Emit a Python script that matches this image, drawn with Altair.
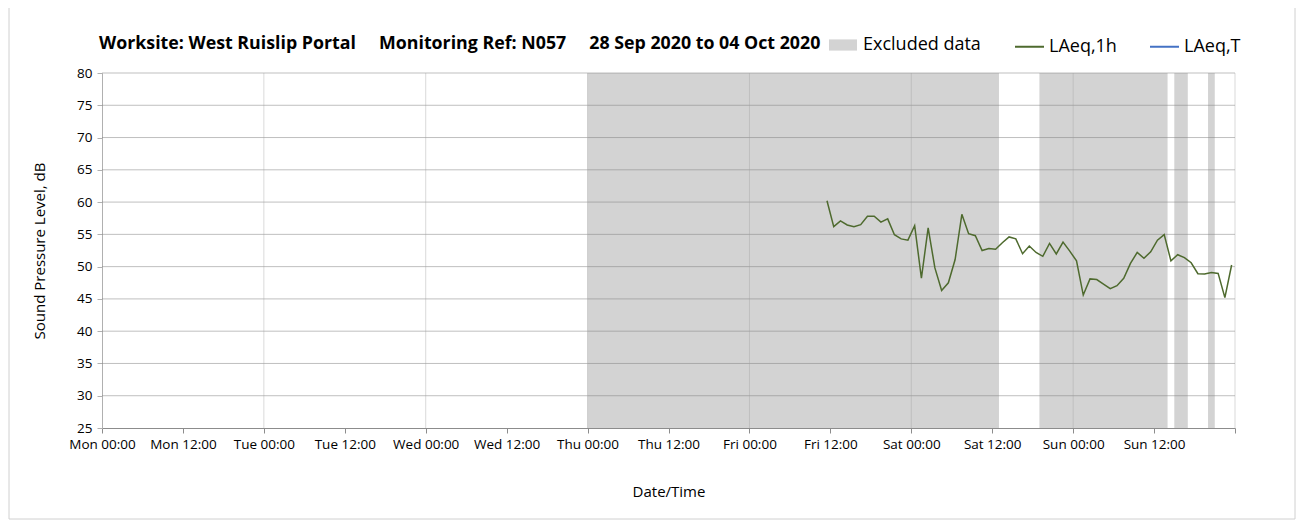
import altair as alt
import pandas as pd

# ---------------- data ----------------
title_parts = ["Worksite: West Ruislip Portal", "Monitoring Ref: N057", "28 Sep 2020 to 04 Oct 2020"]
series_names = ["LAeq,1h", "LAeq,T"]
excluded_label = "Excluded data"

# LAeq,1h hourly values (first value at Fri 02 Oct 2020 11:30)
line_start = "2020-10-02T11:30:00Z"
laeq_1h = [
    60.2, 56.2, 57.1, 56.45, 56.2, 56.5, 57.8, 57.8, 56.9, 57.4,
    54.95, 54.3, 54.1, 56.35, 48.2, 56.0, 49.8, 46.3, 47.5, 51.1,
    58.1, 55.1, 54.8, 52.5, 52.8, 52.7, 53.7, 54.6, 54.3, 52.0,
    53.2, 52.2, 51.6, 53.6, 51.96, 53.8, 52.4, 50.9, 45.6, 48.1,
    48.0, 47.3, 46.6, 47.05, 48.2, 50.5, 52.2, 51.3, 52.3, 54.1,
    54.95, 50.9, 51.85, 51.4, 50.6, 48.9, 48.85, 49.1, 48.95, 45.2,
    50.25,
]

excl_start = ["2020-10-01T00:00:00Z", "2020-10-03T19:00:00Z", "2020-10-04T15:00:00Z", "2020-10-04T20:00:00Z"]
excl_end = ["2020-10-03T13:00:00Z", "2020-10-04T14:00:00Z", "2020-10-04T17:00:00Z", "2020-10-04T21:00:00Z"]

x_start = "2020-09-28T00:00:00Z"
x_end = "2020-10-05T00:00:00Z"
y_ticks = [25, 30, 35, 40, 45, 50, 55, 60, 65, 70, 75, 80]

# ---------------- derived tables ----------------
t0 = pd.Timestamp(x_start)
t1 = pd.Timestamp(x_end)
ms = lambda t: int(t.value // 10**6)
tick_ms = [ms(t) for t in pd.date_range(t0, t1, freq="12h")]
day_ms = [ms(t) for t in pd.date_range(t0, t1, freq="24h")][1:]

line_times = pd.date_range(pd.Timestamp(line_start), periods=len(laeq_1h), freq="h")
df_line = pd.DataFrame({
    "time": [ms(t) for t in line_times],
    "level": laeq_1h,
    "series": series_names[0],
})
df_ex = pd.DataFrame({
    "start": [ms(pd.Timestamp(s)) for s in excl_start],
    "end": [ms(pd.Timestamp(e)) for e in excl_end],
    "label": excluded_label,
})
df_hgrid = pd.DataFrame({"v": y_ticks[1:]})
df_vgrid = pd.DataFrame({"t": day_ms})

W, H = 1133, 355
FONT = "Open Sans"

x_scale = alt.Scale(type="utc", domain=[ms(t0), ms(t1)])
y_scale = alt.Scale(domain=[25, 80], nice=False, zero=False)

x_axis = alt.Axis(
    title="Date/Time", values=tick_ms,
    labelExpr=f"datum.value < {ms(t1)} ? utcFormat(datum.value, '%a %H:%M') : ''",
    grid=False, labelFlush=False, labelOverlap=False,
    domainColor="#8c8c8c", tickColor="#8c8c8c", tickSize=5,
    labelFont=FONT, labelFontSize=13.5, labelColor="#000000", labelPadding=4,
    titleFont=FONT, titleFontSize=15, titleFontWeight="normal", titleColor="#000000",
    titlePadding=34,
)
y_axis = alt.Axis(
    title="Sound Pressure Level, dB", values=y_ticks, grid=False,
    domainColor="#b0b0b0", tickColor="#b0b0b0", tickSize=5,
    labelFont=FONT, labelFontSize=13.5, labelColor="#000000", labelPadding=5,
    titleFont=FONT, titleFontSize=15, titleFontWeight="normal", titleColor="#000000",
    titlePadding=29,
)

one_row = alt.Data(values=[{}])

border = alt.Chart(one_row).mark_rect(
    fillOpacity=0, stroke="#d0d0d0", strokeWidth=1
).encode(
    x=alt.value(-93), x2=alt.value(W + 60), y=alt.value(-67), y2=alt.value(H + 91)
)

title_text = "\u00a0\u00a0\u00a0\u00a0\u00a0".join(title_parts)
title = alt.Chart(one_row).mark_text(
    font=FONT, fontSize=17.8, fontWeight="bold", color="#000000",
    align="left", baseline="middle",
).encode(x=alt.value(-3), y=alt.value(-29), text=alt.value(title_text))

bands = alt.Chart(df_ex).mark_rect().encode(
    x=alt.X("start:T", scale=x_scale, axis=x_axis),
    x2="end:T",
    y=alt.Y(datum=80, scale=y_scale, axis=y_axis),
    y2=alt.Y2(datum=25),
    color=alt.Color(
        "label:N",
        scale=alt.Scale(domain=[excluded_label], range=["#d3d3d3"]),
        legend=alt.Legend(
            title=None, orient="none", legendX=727, legendY=-42, direction="horizontal",
            symbolType="M-1,-0.4H1V0.4H-1Z", symbolSize=784, symbolStrokeWidth=0,
            labelFont=FONT, labelFontSize=18, labelColor="#000000", labelOffset=6, padding=0,
        ),
    ),
)

hgrid = alt.Chart(df_hgrid).mark_rule(color="#808080", opacity=0.5, strokeWidth=1).encode(
    y=alt.Y("v:Q", scale=y_scale, axis=y_axis)
)
vgrid = alt.Chart(df_vgrid).mark_rule(color="#a0a0a0", opacity=0.4, strokeWidth=1).encode(
    x=alt.X("t:T", scale=x_scale, axis=x_axis)
)

line = alt.Chart(df_line).mark_line(strokeWidth=1.5).encode(
    x=alt.X("time:T", scale=x_scale, axis=x_axis),
    y=alt.Y("level:Q", scale=y_scale, axis=y_axis),
    stroke=alt.Stroke(
        "series:N",
        scale=alt.Scale(domain=series_names, range=["#4e6a2e", "#4472c4"]),
        legend=alt.Legend(
            title=None, orient="none", legendX=912, legendY=-42, direction="horizontal",
            symbolType="stroke", symbolSize=841, symbolStrokeWidth=2,
            labelFont=FONT, labelFontSize=18, labelColor="#000000", labelOffset=4,
            columnPadding=29, padding=0,
        ),
    ),
)

chart = alt.layer(border, title, bands, hgrid, vgrid, line).properties(
    width=W, height=H,
    padding={"left": 94, "top": 65, "right": 61, "bottom": 92},
    autosize=alt.AutoSizeParams(type="none"),
    background="white",
).configure_view(stroke=None)

chart.save("out.html", embed_options={"renderer": "svg", "actions": False})
